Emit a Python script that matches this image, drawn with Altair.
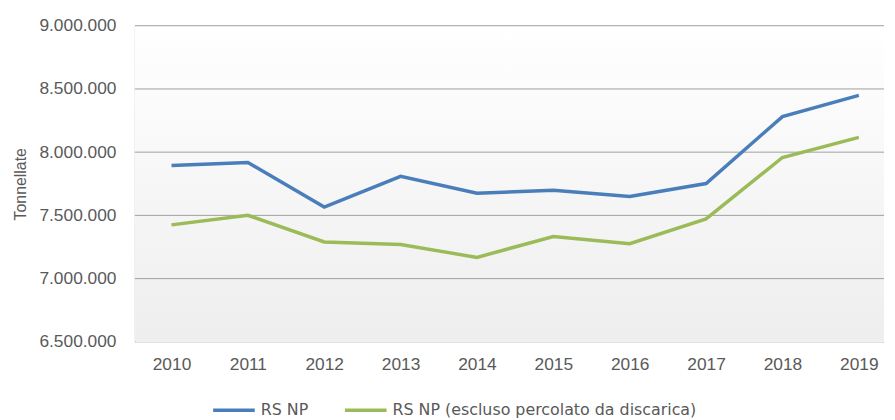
import altair as alt
import pandas as pd

years = [2010, 2011, 2012, 2013, 2014, 2015, 2016, 2017, 2018, 2019]
rs_np = [7895000, 7918000, 7566000, 7809000, 7675000, 7699000, 7650000, 7752000, 8281000, 8449000]
rs_np_excl = [7425000, 7501000, 7290000, 7270000, 7168000, 7333000, 7276000, 7472000, 7958000, 8117000]
series_names = ["RS NP", "RS NP (escluso percolato da discarica)"]
series_colors = ["#4a7ebb", "#9bbb59"]
y_ticks = [6500000, 7000000, 7500000, 8000000, 8500000, 9000000]

rows = []
for name, vals in zip(series_names, [rs_np, rs_np_excl]):
    for yr, v in zip(years, vals):
        rows.append({"year": yr, "value": v, "series": name})
df = pd.DataFrame(rows)
grid_df = pd.DataFrame({"value": [t for t in y_ticks if t > y_ticks[0]]})

W, H = 756, 319
yscale = alt.Scale(domain=[y_ticks[0], y_ticks[-1]], nice=False, zero=False)
xscale = alt.Scale(domain=[2009.52, 2019.33], nice=False, zero=False)

y_axis = alt.Axis(
    values=y_ticks, title="Tonnellate", ticks=False, grid=False,
    domainColor="#a0a0a0", labelPadding=19, labelFont="Liberation Sans",
    labelFontSize=17.5, labelColor="#595959",
    labelExpr="replace(format(datum.value, ',d'), regexp(',', 'g'), '.')",
    titleFont="Liberation Sans", titleFontSize=16, titleFontWeight="normal",
    titleColor="#595959", titlePadding=10,
)

gradient = alt.LinearGradient(
    gradient="linear",
    stops=[alt.GradientStop(color="#ffffff", offset=0), alt.GradientStop(color="#eeeeee", offset=1)],
    x1=0, x2=0, y1=0, y2=1,
)

bg = alt.Chart(pd.DataFrame({"a": [0]})).mark_rect(color=gradient).encode(
    x=alt.value(0), x2=alt.value(W), y=alt.value(0), y2=alt.value(H)
)

grid = alt.Chart(grid_df).mark_rule(color="#a0a0a0", strokeWidth=1).encode(
    y=alt.Y("value:Q", scale=yscale, axis=y_axis)
)

lines = alt.Chart(df).mark_line(strokeWidth=3.5).encode(
    x=alt.X(
        "year:Q",
        scale=xscale,
        axis=alt.Axis(
            values=years, format="d", title=None, ticks=False, grid=False,
            domainColor="#d9d9d9", labelPadding=14, labelFont="Liberation Sans",
            labelFontSize=17.5, labelColor="#595959",
        ),
    ),
    y=alt.Y("value:Q", scale=yscale, axis=y_axis),
    color=alt.Color(
        "series:N",
        scale=alt.Scale(domain=series_names, range=series_colors),
        sort=series_names,
        legend=alt.Legend(
            title=None, orient="none", legendX=77, legendY=365, direction="horizontal",
            symbolType="stroke", symbolSize=1764, symbolStrokeWidth=3.5,
            labelFont="DejaVu Sans", labelFontSize=16, labelColor="#595959",
            columnPadding=30, labelOffset=4, padding=0, labelLimit=0,
        ),
    ),
)

chart = alt.layer(bg, grid, lines).properties(
    width=W, height=H,
    autosize=alt.AutoSizeParams(type="none"),
    padding={"left": 128, "top": 16, "right": 3, "bottom": 77},
).configure_view(strokeWidth=0)

chart.save("out.html", embed_options={"renderer": "svg", "actions": False})
